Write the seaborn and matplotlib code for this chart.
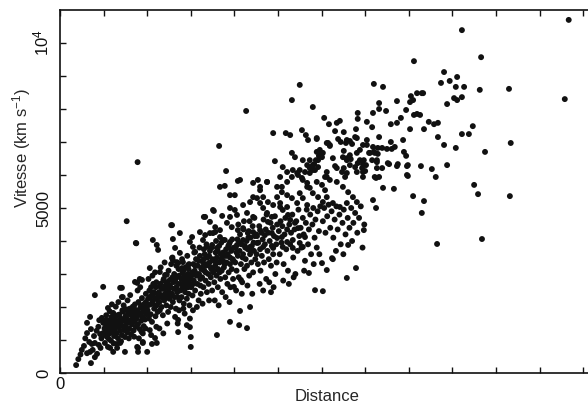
import matplotlib
matplotlib.use("Agg")
import matplotlib.pyplot as plt
import pandas as pd
import seaborn as sns

# (distance, vitesse km/s), grouped by zone
near = [
    (0.37, 240), (0.42, 420), (0.71, 300), (0.62, 600), (0.69, 640), (0.80, 480), (0.85, 580),
    (0.67, 940), (0.73, 880), (0.80, 910), (0.89, 850), (0.62, 1210), (0.62, 1520), (0.71, 1330),
    (0.69, 1700), (0.80, 2360), (0.99, 2610), (0.96, 1670), (0.99, 1520), (0.99, 1210), (1.08, 1090),
    (1.12, 1030), (1.03, 910), (1.10, 790), (1.15, 760), (1.22, 640), (1.31, 760), (1.38, 910),
    (1.49, 640), (1.79, 760), (1.90, 910), (2.00, 640), (2.18, 1060), (1.10, 1970), (1.22, 1820),
    (1.19, 1670), (1.42, 2300), (1.38, 2580), (0.50, 700), (0.55, 820), (0.92, 1180), (0.88, 1400),
    (0.95, 1050), (0.78, 1120), (0.84, 1280), (0.90, 1600), (0.58, 1050), (0.75, 700), (0.93, 760),
    (0.47, 560),
]

core_low = [
    (1.02, 1350), (1.05, 1480), (1.07, 1260), (1.09, 1600), (1.11, 1420), (1.13, 1190), (1.15, 1540),
    (1.16, 1330), (1.18, 1450), (1.20, 1250), (1.21, 1620), (1.23, 1380), (1.24, 1120), (1.06, 1750),
    (1.14, 1870), (1.19, 2080), (1.25, 1500), (1.04, 1150), (1.17, 980), (1.23, 900),
    (1.26, 1310), (1.27, 1690), (1.29, 1440), (1.30, 1200), (1.32, 1560), (1.33, 1050), (1.35, 1390),
    (1.36, 1770), (1.38, 1280), (1.39, 1520), (1.41, 1640), (1.42, 1150), (1.44, 1420), (1.45, 1860),
    (1.47, 1300), (1.48, 1580), (1.50, 1720), (1.28, 2010), (1.34, 2150), (1.46, 2050), (1.40, 960),
    (1.31, 880), (1.49, 1090),
    (1.51, 1400), (1.53, 1650), (1.54, 1230), (1.56, 1790), (1.57, 1520), (1.59, 1340), (1.60, 1950),
    (1.62, 1600), (1.63, 1180), (1.65, 1470), (1.66, 1830), (1.68, 1700), (1.69, 1290), (1.71, 1560),
    (1.72, 2080), (1.74, 1400), (1.55, 2200), (1.61, 2360), (1.67, 2010), (1.58, 1050), (1.70, 1100),
    (1.73, 1880), (1.52, 1930),
    (1.76, 1650), (1.77, 1900), (1.79, 1480), (1.80, 2150), (1.82, 1760), (1.83, 1330), (1.85, 1990),
    (1.86, 1580), (1.88, 2270), (1.89, 1700), (1.91, 1850), (1.92, 1420), (1.94, 2100), (1.95, 1620),
    (1.97, 2400), (1.98, 1780), (1.78, 2500), (1.84, 2600), (1.90, 1200), (1.96, 1350), (1.81, 1050),
    (1.99, 2050), (1.87, 1250),
    (2.01, 1900), (2.02, 2250), (2.04, 1650), (2.05, 2500), (2.07, 2080), (2.08, 1780), (2.10, 2350),
    (2.11, 1550), (2.13, 2180), (2.14, 2700), (2.16, 1950), (2.17, 2420), (2.19, 1720), (2.20, 2600),
    (2.22, 2050), (2.23, 2280), (2.24, 1850), (2.03, 2850), (2.12, 2950), (2.21, 1400), (2.06, 1300),
    (2.18, 3050), (2.09, 1150),
    (2.26, 2150), (2.27, 2450), (2.29, 1900), (2.30, 2700), (2.32, 2300), (2.33, 2000), (2.35, 2550),
    (2.36, 1750), (2.38, 2850), (2.39, 2200), (2.41, 2400), (2.42, 2650), (2.44, 2050), (2.45, 2980),
    (2.47, 2300), (2.48, 1850), (2.50, 2550), (2.31, 3200), (2.40, 3350), (2.46, 1500), (2.28, 1350),
    (2.37, 1200), (2.49, 3100),
    (2.51, 2250), (2.53, 2600), (2.54, 2000), (2.56, 2850), (2.57, 2400), (2.59, 2150), (2.60, 2750),
    (2.62, 3000), (2.63, 2300), (2.65, 2550), (2.66, 1950), (2.68, 2900), (2.69, 2450), (2.71, 2700),
    (2.72, 3150), (2.74, 2200), (2.55, 3300), (2.64, 1700), (2.70, 1500), (2.58, 3500), (2.67, 3250),
    (2.73, 1900),
    (2.76, 2500), (2.78, 2850), (2.79, 2300), (2.81, 3050), (2.82, 2650), (2.84, 2100), (2.85, 2950),
    (2.87, 2450), (2.88, 3200), (2.90, 2750), (2.91, 2250), (2.93, 3000), (2.94, 2600), (2.96, 3300),
    (2.97, 2050), (2.99, 2850), (2.80, 3450), (2.86, 1800), (2.92, 3550), (2.98, 1650), (2.83, 1950),
    (2.95, 2400),
]

core_extra = [
    (1.05, 1600), (1.12, 1300), (1.18, 1700), (1.25, 1350), (1.32, 1750), (1.37, 1600), (1.43, 1900),
    (1.52, 1550), (1.58, 1800), (1.64, 1750), (1.70, 1950), (1.75, 1750), (1.80, 1850), (1.86, 2050),
    (1.93, 1950), (1.97, 2150),
    (2.02, 2050), (2.06, 2300), (2.09, 2600), (2.12, 2100), (2.15, 2450), (2.18, 2250), (2.21, 2750),
    (2.25, 2400), (2.28, 2150), (2.31, 2600), (2.34, 2350), (2.37, 2800), (2.40, 2550), (2.43, 2300),
    (2.46, 2750), (2.49, 2450), (2.52, 2650), (2.55, 2350), (2.58, 2900), (2.61, 2550), (2.64, 2800),
    (2.67, 2600), (2.70, 2300), (2.73, 2950), (2.77, 2700), (2.80, 2550), (2.83, 3100), (2.86, 2800),
    (2.89, 2600), (2.92, 2900), (2.95, 3150), (2.98, 2700),
    (3.02, 2950), (3.06, 2700), (3.10, 3250), (3.14, 3000), (3.18, 3400), (3.22, 2850), (3.26, 3200),
    (3.30, 3450), (3.34, 3050), (3.38, 3300), (3.42, 3550), (3.46, 3200), (3.50, 3450), (3.54, 3100),
    (3.58, 3350), (3.62, 3700), (3.66, 3050), (3.70, 3450), (3.74, 3650), (3.78, 3300), (3.82, 3550),
    (3.86, 3850), (3.90, 3500), (3.94, 3750), (3.98, 3400), (4.05, 3650), (4.11, 3950), (4.19, 3500),
    (4.25, 3800), (4.32, 4100), (4.38, 3700), (4.44, 3950), (4.50, 4200),
]

core_mid = [
    (3.01, 2600), (3.03, 3050), (3.04, 2350), (3.06, 3300), (3.07, 2800), (3.09, 3100), (3.10, 2500),
    (3.12, 3450), (3.13, 2950), (3.15, 2700), (3.16, 3250), (3.18, 2200), (3.19, 3000), (3.21, 3550),
    (3.22, 2650), (3.24, 3150), (3.05, 1900), (3.14, 2000), (3.20, 3800), (3.08, 3650), (3.23, 2400),
    (3.26, 2900), (3.28, 3350), (3.29, 2600), (3.31, 3100), (3.32, 3600), (3.34, 2800), (3.35, 3250),
    (3.37, 2450), (3.38, 3500), (3.40, 3000), (3.41, 2700), (3.43, 3350), (3.44, 3700), (3.46, 2900),
    (3.47, 3150), (3.49, 2500), (3.27, 2100), (3.36, 3900), (3.42, 2200), (3.48, 3800), (3.30, 3750),
    (3.51, 3050), (3.53, 3400), (3.54, 2750), (3.56, 3250), (3.57, 3650), (3.59, 2950), (3.60, 3500),
    (3.62, 2600), (3.63, 3150), (3.65, 3850), (3.66, 3350), (3.68, 2850), (3.69, 3600), (3.71, 3100),
    (3.72, 2450), (3.74, 3400), (3.55, 2200), (3.64, 2050), (3.70, 3950), (3.58, 4000),
    (3.76, 3200), (3.78, 3550), (3.79, 2900), (3.81, 3750), (3.82, 3350), (3.84, 2700), (3.85, 3600),
    (3.87, 3050), (3.88, 3900), (3.90, 3300), (3.91, 2600), (3.93, 3700), (3.94, 3150), (3.96, 3450),
    (3.97, 2850), (3.99, 3800), (3.80, 2300), (3.89, 2150), (3.95, 4050),
    (4.02, 3350), (4.03, 3800), (4.05, 3100), (4.07, 4050), (4.08, 3550), (4.10, 2900), (4.12, 3700),
    (4.13, 4200), (4.15, 3300), (4.16, 3900), (4.18, 2750), (4.20, 3600), (4.21, 4350), (4.23, 3150),
    (4.24, 3850), (4.04, 2500), (4.17, 2400), (4.22, 4600), (4.09, 4500),
    (4.26, 3450), (4.28, 4000), (4.29, 3250), (4.31, 3750), (4.33, 4300), (4.34, 2950), (4.36, 3600),
    (4.37, 4100), (4.39, 3350), (4.40, 3850), (4.42, 4450), (4.43, 3050), (4.45, 3700), (4.47, 4150),
    (4.48, 3450), (4.30, 2650), (4.41, 2400), (4.46, 4700), (4.35, 4600),
    (4.51, 3600), (4.52, 4150), (4.54, 3300), (4.55, 3950), (4.57, 4450), (4.59, 3750), (4.60, 3100),
    (4.62, 4250), (4.63, 3550), (4.65, 4050), (4.67, 4650), (4.68, 3350), (4.70, 3900), (4.72, 4350),
    (4.73, 2850), (4.58, 2700), (4.66, 2500), (4.74, 4800),
    (4.76, 3700), (4.78, 4250), (4.79, 3450), (4.81, 4000), (4.83, 4550), (4.84, 3250), (4.86, 3850),
    (4.88, 4400), (4.89, 3600), (4.91, 4150), (4.93, 4750), (4.94, 3000), (4.96, 3900), (4.98, 4500),
    (4.80, 2750), (4.90, 2600), (4.97, 3350),
    (5.02, 4300), (5.04, 3600), (5.06, 4600), (5.08, 3950), (5.10, 4450), (5.13, 3300), (5.15, 4200),
    (5.17, 4700), (5.19, 3750), (5.21, 4350), (5.23, 3100), (5.26, 4500), (5.28, 3900), (5.30, 4250),
    (5.33, 4800), (5.35, 3500), (5.38, 4350), (5.40, 3000), (5.42, 4600), (5.45, 3700), (5.47, 4950),
    (5.49, 4150), (5.12, 2800), (5.25, 2700), (5.36, 2900),
    (5.52, 4400), (5.54, 3800), (5.57, 4700), (5.59, 4200), (5.62, 3400), (5.64, 4550), (5.66, 4950),
    (5.69, 3900), (5.71, 4350), (5.74, 4800), (5.76, 3600), (5.79, 4500), (5.81, 5000), (5.84, 4100),
    (5.86, 4650), (5.89, 3800), (5.91, 4900), (5.94, 4300), (5.97, 5050), (5.60, 3100), (5.82, 3300),
    (5.95, 3600),
    (6.03, 4600), (6.06, 5000), (6.09, 4250), (6.13, 4750), (6.16, 5100), (6.20, 4400), (6.23, 4900),
    (6.27, 4100), (6.30, 4650), (6.34, 5050), (6.37, 4350), (6.41, 4800), (6.44, 3900), (6.48, 4550),
    (6.51, 4950), (6.55, 4200), (6.60, 4700), (6.64, 4400), (6.68, 5000), (6.73, 4550), (6.77, 4850),
    (6.82, 4250), (6.86, 4700), (6.90, 5050), (6.94, 3800), (6.98, 4500), (6.33, 3700), (6.50, 3600),
]

upper_band = [
    (2.13, 4030), (2.22, 3880), (2.25, 3730), (2.57, 4480), (2.59, 4060), (2.75, 4240), (2.64, 3790),
    (2.75, 3640), (2.57, 3480), (2.68, 3360), (2.82, 3360), (2.94, 3270), (3.03, 4120), (2.98, 3970),
    (3.05, 3820), (3.10, 3670), (3.21, 4270), (3.33, 4180), (3.44, 4240), (3.56, 4270), (3.67, 4120),
    (3.78, 4030), (2.06, 3180), (2.59, 3420), (2.71, 3330), (2.80, 3180), (2.29, 3060), (2.41, 2970),
    (2.52, 2820), (1.77, 2730), (1.88, 2820), (1.42, 2580), (1.44, 2300), (3.28, 4030), (3.37, 3820),
    (3.30, 4730), (3.53, 4910), (2.55, 4480), (1.72, 2760), (1.83, 2850), (1.74, 3940),
    (3.81, 6120), (3.67, 5640), (3.78, 5670), (4.08, 5820), (4.43, 5760), (4.54, 5850), (4.59, 5640),
    (4.75, 5790), (3.90, 5390), (4.01, 5390), (3.51, 4940), (3.72, 4760), (3.90, 5000), (4.01, 4940),
    (4.06, 4790), (3.90, 4730), (4.20, 5090), (4.36, 5180), (4.43, 5330), (4.29, 4850), (4.43, 4730),
    (4.59, 5150), (4.66, 5000), (4.75, 4850), (4.86, 4730), (4.77, 4580), (4.98, 5330), (5.05, 5150),
    (5.11, 4940), (5.23, 4790), (5.28, 4640), (5.39, 4550), (5.46, 4390), (5.09, 5640), (5.21, 5790),
    (5.32, 5940), (5.44, 6060), (5.50, 6150), (5.57, 5850), (5.67, 5640), (3.56, 4420), (3.67, 4330),
    (3.51, 4240), (3.83, 4550), (3.94, 4420), (4.08, 4330), (4.20, 4390), (4.31, 4240), (4.43, 4270),
    (4.59, 4330), (4.70, 4180), (4.86, 4240), (4.98, 4090), (5.09, 4120), (5.21, 3970), (5.34, 4030),
    (5.50, 3940), (5.62, 4120), (3.74, 4030), (3.90, 3970), (4.06, 3880), (4.20, 4030), (4.36, 3820),
    (4.52, 3940), (3.49, 3880), (3.60, 3790), (4.66, 3820), (4.89, 3790), (5.11, 3820), (5.34, 3790),
    (5.57, 3820), (4.52, 5300), (4.13, 5850), (3.33, 4730), (3.44, 4580),
    (4.89, 7270), (5.18, 7270), (5.28, 7210), (5.55, 7360), (5.64, 7210), (5.69, 7060), (5.89, 7120),
    (6.12, 6970), (6.19, 6910), (5.32, 6670), (5.39, 6540), (4.93, 6420), (5.89, 6700), (5.96, 6670),
    (6.01, 6540), (5.92, 6450), (5.80, 6300), (5.85, 6150), (5.73, 6210), (5.57, 6450), (5.67, 6300),
    (5.62, 6090), (5.11, 6240), (5.21, 6090), (5.05, 5940), (5.34, 6150), (5.46, 6000), (5.55, 5910),
    (4.75, 5790), (6.35, 6210), (6.47, 6090), (6.54, 5940), (6.58, 6510), (6.65, 6300), (6.77, 6240),
    (6.81, 6090), (6.77, 7150), (6.12, 5940), (6.19, 5850), (5.89, 5790), (6.01, 5700), (6.08, 5540),
    (6.35, 5790), (6.49, 5640), (6.61, 5480), (6.72, 5330), (6.81, 5180), (5.67, 5760), (5.73, 5610),
    (5.80, 5450), (5.92, 5330), (6.03, 5180), (4.98, 5640), (5.09, 5480), (5.21, 5390), (5.32, 5300),
    (5.44, 5150), (4.59, 5540), (4.66, 5330), (4.77, 5180), (4.89, 5090), (5.50, 5450), (5.57, 5300),
    (5.67, 5090), (6.12, 5330), (6.26, 5150), (6.42, 5030), (6.58, 5150), (5.05, 5030), (5.21, 5030),
    (5.80, 8060), (6.83, 7880), (6.83, 7700), (6.06, 7730), (6.17, 7540), (6.35, 7580), (6.42, 7640),
    (6.31, 7330), (6.51, 7300), (6.79, 7390), (5.89, 7090), (6.38, 7090), (6.44, 7000), (6.15, 6970),
    (6.19, 6880), (6.58, 7060), (6.65, 7030), (6.56, 6970), (6.70, 6940), (6.81, 7120), (5.96, 6760),
    (6.03, 6670), (5.94, 6580), (5.87, 6450), (5.83, 6330), (5.92, 6240), (5.80, 6150), (6.26, 6510),
    (6.51, 6730), (6.49, 6540), (6.58, 6450), (6.81, 6670), (6.88, 6450), (6.83, 6360), (6.95, 6330),
    (6.93, 6210), (7.00, 6120), (6.65, 6600), (6.67, 6480), (7.11, 6670), (7.20, 6700), (7.29, 6640),
    (7.16, 6450), (7.27, 6390), (7.52, 6360), (7.73, 6270), (7.96, 6270), (6.31, 6270), (6.51, 6210),
    (6.58, 6060), (6.12, 6090), (6.08, 5940), (5.73, 6060), (5.78, 6240), (5.73, 6450), (7.96, 6000),
    (7.22, 5940), (6.95, 5940),
]

far = [
    (8.12, 9450), (7.20, 8760), (7.41, 8670), (8.05, 8390), (8.19, 8480), (8.30, 8480), (8.10, 8270),
    (8.03, 8210), (7.73, 8240), (7.32, 8180), (7.32, 8000), (7.48, 7940), (7.18, 7880), (8.12, 7820),
    (8.19, 7850), (7.94, 7970), (7.82, 7730), (7.04, 7610), (7.16, 7450), (7.59, 7540), (7.73, 7580),
    (8.03, 7390), (7.32, 7150), (6.95, 6910), (7.04, 6910), (7.04, 7060), (7.87, 7060), (7.59, 7000),
    (7.18, 6850), (7.29, 6820), (7.39, 6820), (7.50, 6790), (7.61, 6790), (7.68, 6850), (6.88, 6760),
    (7.09, 6670), (7.22, 6670), (7.89, 6700), (7.94, 6580), (6.97, 6450), (7.27, 6450), (7.02, 6300),
    (7.55, 6330), (7.75, 6330), (7.98, 6300), (7.27, 6210), (7.39, 6210), (6.95, 6090), (7.98, 5970),
    (7.25, 5910), (7.32, 5940), (7.41, 5610), (7.66, 5580), (7.18, 5240), (7.25, 5000), (8.10, 5360),
    (9.22, 10390), (9.66, 9570), (8.81, 9120), (8.74, 8790), (8.94, 8850), (9.11, 8970), (9.08, 8670),
    (9.27, 8670), (8.33, 8480), (9.63, 8580), (10.30, 8610), (9.04, 8330), (9.11, 8270), (9.22, 8360),
    (8.88, 8150), (8.26, 7820), (8.46, 7610), (8.58, 7540), (8.67, 7580), (8.35, 7390), (9.47, 7480),
    (8.67, 7150), (9.22, 7240), (9.38, 7240), (8.81, 6910), (9.08, 6820), (9.75, 6700), (10.34, 6970),
    (8.28, 6270), (8.88, 6300), (8.53, 6180), (8.62, 5940), (9.50, 5700), (9.59, 5420), (10.32, 5360),
    (8.35, 5210), (8.30, 4850), (8.65, 3910), (9.68, 4060), (11.67, 10700), (11.58, 8300),
    (5.50, 8730), (5.32, 8270), (4.27, 7940), (3.65, 6880),
]

low_tail = [
    (2.71, 1240), (3.00, 1090), (3.60, 1150), (3.00, 790), (2.71, 1610), (2.91, 1450), (2.98, 1390),
    (3.90, 1550), (4.11, 1450), (4.29, 1360), (4.36, 2000), (4.13, 1880), (3.99, 2610), (4.15, 2820),
    (1.90, 940), (2.11, 880), (2.22, 910), (1.77, 790), (1.79, 640), (6.58, 2880), (6.79, 3180),
    (5.85, 2510), (6.03, 2480), (4.84, 2450), (6.97, 4330), (6.61, 3880), (6.70, 4000), (6.26, 3450),
    (5.71, 3030), (6.01, 3330), (6.12, 3120), (6.24, 3480),
]

outliers = [(1.78, 6390), (1.53, 4600), (1.75, 3930)]

y_ticks = [0, 1000, 2000, 3000, 4000, 5000, 6000, 7000, 8000, 9000, 10000]
y_labels = ["0", "", "", "", "", "5000", "", "", "", "", "10$^4$"]
x_ticks = list(range(0, 13))
x_labels = ["0"] + [""] * 12

rows = near + core_low + core_extra + core_mid + upper_band + far + low_tail + outliers
df = pd.DataFrame(rows, columns=["distance", "vitesse"])

sns.set_theme(style="ticks")
plt.rcParams["font.family"] = ["Liberation Sans", "DejaVu Sans"]
plt.rcParams["mathtext.default"] = "regular"

fig = plt.figure(figsize=(5.88, 4.04), dpi=100)
ax = fig.add_axes([60 / 588, 31 / 404, 534 / 588, 363 / 404])

sns.scatterplot(data=df, x="distance", y="vitesse", color="#111111", s=18,
                edgecolor="none", linewidth=0, legend=False, ax=ax)

ax.set_xlim(0, 12.25)
ax.set_ylim(0, 11000)
ax.set_xticks(x_ticks)
ax.set_xticklabels(x_labels, fontsize=12)
ax.set_yticks(y_ticks)
ax.set_yticklabels(y_labels, fontsize=12, rotation=90, va="center")
ax.tick_params(direction="in", length=4, width=1.0, top=True, right=True, colors="#111111")
ax.tick_params(axis="x", pad=3)
ax.tick_params(axis="y", pad=6)
for spine in ax.spines.values():
    spine.set_linewidth(1.2)
    spine.set_color("#111111")

ax.set_xlabel("Distance", fontsize=12)
ax.xaxis.set_label_coords(0.5, -0.045, transform=ax.transAxes)
ax.xaxis.label.set_verticalalignment("top")
ax.set_ylabel("Vitesse (km s$^{-1}$)", fontsize=12)
ax.yaxis.set_label_coords(-0.05, 0.62)

fig.savefig("out.png", dpi=100)
